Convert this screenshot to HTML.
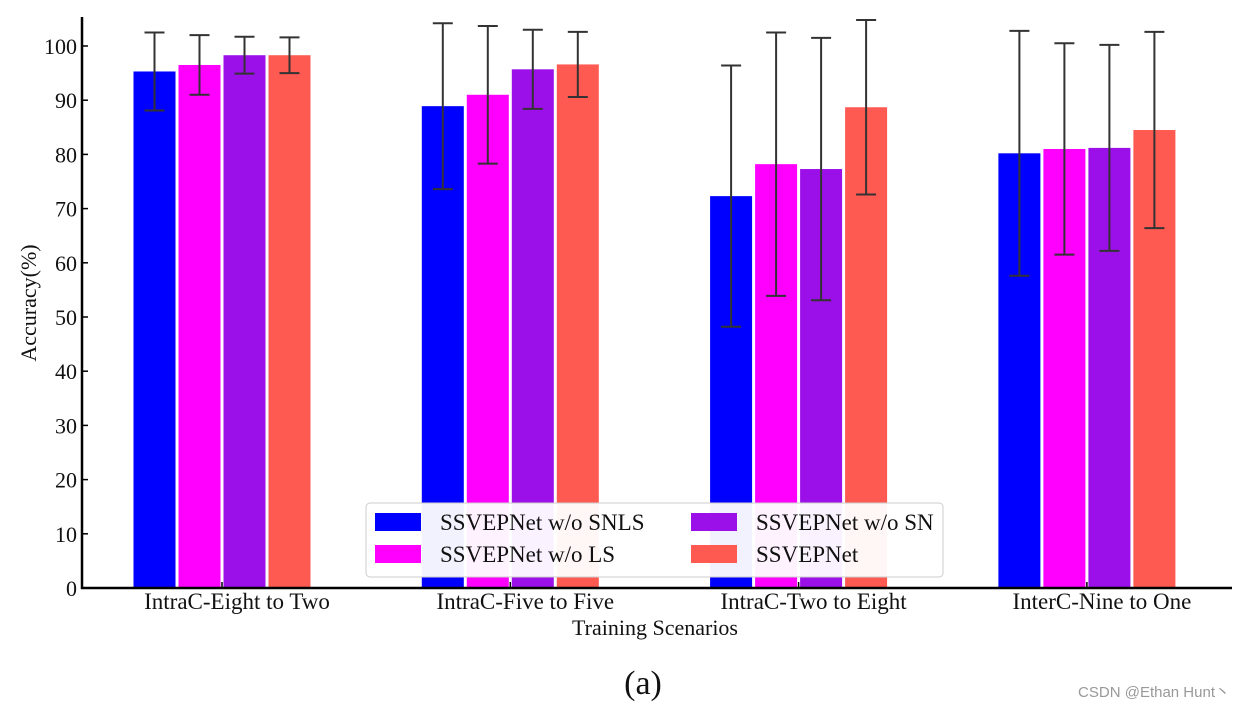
<!DOCTYPE html>
<html><head><meta charset="utf-8"><style>
body{margin:0;background:#fff;width:1243px;height:707px;overflow:hidden}
text{font-family:"Liberation Serif",serif;fill:#111}
</style></head><body>
<svg id="chart" width="1243" height="707" xmlns="http://www.w3.org/2000/svg"></svg>
<script>
const categories=["IntraC-Eight to Two","IntraC-Five to Five","IntraC-Two to Eight","InterC-Nine to One"];
const seriesNames=["SSVEPNet w/o SNLS","SSVEPNet w/o LS","SSVEPNet w/o SN","SSVEPNet"];
const snlsVals=[95.3,88.9,72.3,80.2];
const lsVals=[96.5,91.0,78.2,81.0];
const snVals=[98.3,95.7,77.3,81.2];
const fullVals=[98.3,96.6,88.7,84.5];
const snlsErr=[7.2,15.3,24.1,22.6];
const lsErr=[5.5,12.7,24.3,19.5];
const snErr=[3.4,7.3,24.2,19.0];
const fullErr=[3.3,6.0,16.1,18.1];
const yTicks=[0,10,20,30,40,50,60,70,80,90,100];
const colors=["#0000ff","#ff00ff","#9b10e8","#ff5a52"];
const vals=[snlsVals,lsVals,snVals,fullVals];
const errs=[snlsErr,lsErr,snErr,fullErr];
const NS="http://www.w3.org/2000/svg";
const svg=document.getElementById('chart');
const X0=82,X1=1232,Y0=588,YT=17;
const y=v=>Y0-v*(Y0-46)/100;
const gx=i=>222+i*288.3;
const bw=42,bstep=45;
function el(t,a,p){const e=document.createElementNS(NS,t);for(const k in a)e.setAttribute(k,a[k]);(p||svg).appendChild(e);return e;}
vals.forEach((s,si)=>{s.forEach((v,ci)=>{
 const cx=gx(ci)+(si-1.5)*bstep;
 const r=el('rect',{x:cx-bw/2,y:y(v),width:bw,height:Y0-y(v),fill:colors[si]});
 
 
 const e=errs[si][ci];
 const g=el('g',{stroke:'#333','stroke-width':2});
 
 
 el('line',{x1:cx,x2:cx,y1:y(v-e),y2:y(v+e)},g);
 el('line',{x1:cx-10,x2:cx+10,y1:y(v-e),y2:y(v-e)},g);
 el('line',{x1:cx-10,x2:cx+10,y1:y(v+e),y2:y(v+e)},g);
});});
const ax=el('g',{stroke:'#000','stroke-width':2.5});


el('line',{x1:X0,x2:X0,y1:YT,y2:Y0+1},ax);
el('line',{x1:X0-1,x2:X1,y1:Y0,y2:Y0},ax);
yTicks.forEach(t=>{
 el('line',{x1:X0,x2:X0+6,y1:y(t),y2:y(t),stroke:'#000','stroke-width':1.5});
 const tx=el('text',{x:X0-5,y:y(t)+8,'text-anchor':'end','font-size':22});
 tx.textContent=t;
 
 
});
categories.forEach((c,i)=>{
 el('line',{x1:gx(i),x2:gx(i),y1:Y0,y2:Y0-6,stroke:'#000','stroke-width':1.5});
 const tx=el('text',{x:gx(i)+15,y:609,'text-anchor':'middle','font-size':23});
 tx.textContent=c;
 
 
});
const xt=el('text',{x:655,y:635,'text-anchor':'middle','font-size':22});xt.textContent="Training Scenarios";


const yt=el('text',{x:0,y:0,'text-anchor':'middle','font-size':22,transform:'translate(36,303) rotate(-90)'});yt.textContent="Accuracy(%)";


const cap=el('text',{x:643,y:694,'text-anchor':'middle','font-size':34});cap.textContent="(a)";


const lg=el('g',{});


el('rect',{x:366,y:503,width:577,height:74,rx:4,fill:'#fff','fill-opacity':0.95,stroke:'#ccc','stroke-width':1},lg);
const pos=[[375,522],[375,554],[691,522],[691,554]];
[0,1,2,3].forEach((si,k)=>{
 const [px,py]=pos[k];
 const r=el('rect',{x:px,y:py-9,width:46,height:18,fill:colors[si]},lg);
 
 
 const t=el('text',{x:px+65,y:py+8,'font-size':23},lg);t.textContent=seriesNames[si];
 
 
});
const wm=el('text',{x:1230,y:697,'text-anchor':'end','font-size':15,style:'font-family:"Liberation Sans",sans-serif;fill:#999'});wm.textContent="CSDN @Ethan Hunt丶";


</script>
</body></html>
